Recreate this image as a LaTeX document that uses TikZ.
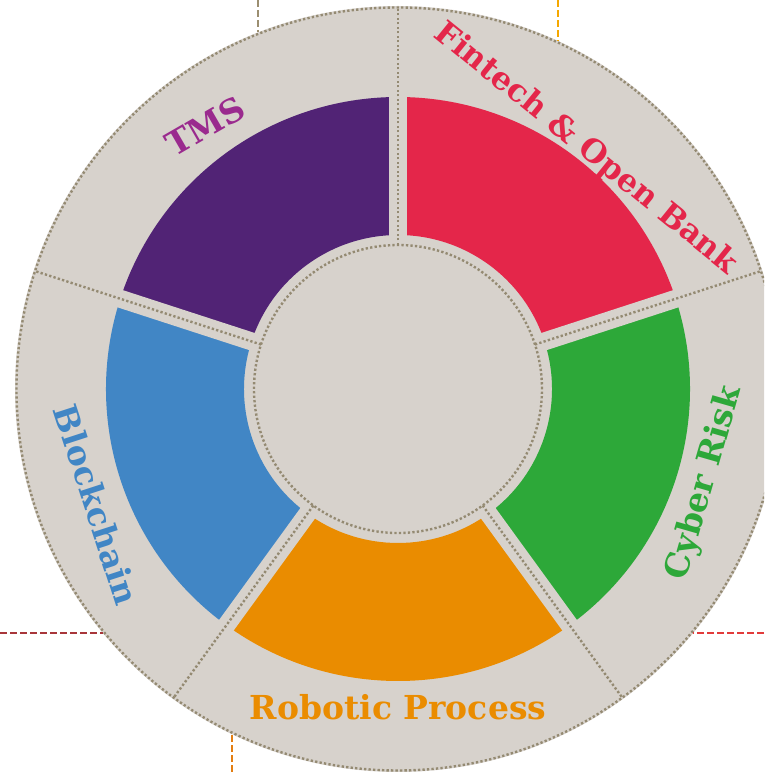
\documentclass[tikz,border=0pt]{standalone}
\usepackage{fontspec}
\setmainfont{DejaVu Serif}
\definecolor{ringgray}{HTML}{D7D2CC}
\definecolor{dotcol}{HTML}{948A72}
\definecolor{tmspurple}{HTML}{512375}
\definecolor{tmsmag}{HTML}{9A2A8E}
\definecolor{fintechred}{HTML}{E4264A}
\definecolor{cybergreen}{HTML}{2DA839}
\definecolor{roboorange}{HTML}{EA8C00}
\definecolor{blockblue}{HTML}{4186C5}
\definecolor{dashgray}{HTML}{9B8E70}
\definecolor{dashyellow}{HTML}{F5A700}
\definecolor{dashdarkred}{HTML}{A8363A}
\definecolor{dashred}{HTML}{E23B3B}
\definecolor{dashorange}{HTML}{E37E12}
\begin{document}
\begin{tikzpicture}[x=1pt,y=1pt,
  dotline/.style={dotcol, line width=2.4pt, dash pattern=on 2.3pt off 2.2pt},
  gapline/.style={ringgray, line width=18pt},
  lbl/.style={font=\bfseries\fontsize{33}{33}\selectfont, inner sep=0pt, anchor=center},
  edgedash/.style={line width=2.2pt, dash pattern=on 7pt off 3pt}]
\useasboundingbox (0,0) rectangle (764,772);
\clip (0,0) rectangle (764,772);
\begin{scope}[shift={(398,383)}]
  \coordinate (O) at (0,0);
  \fill[ringgray] (O) circle (383);
  % coloured ring sectors
  \foreach \a/\col in {90/tmspurple, 18/fintechred, -54/cybergreen, -126/roboorange, 162/blockblue}{
    \fill[\col] (\a:154) arc[start angle=\a, delta angle=72, radius=154]
      -- ({\a+72}:292) arc[start angle={\a+72}, delta angle=-72, radius=292] -- cycle;
  }
  % gaps between sectors
  \foreach \a in {90,18,-54,-126,162}{
    \draw[gapline] (\a:140) -- (\a:300);
  }
  % dotted separators and circles
  \foreach \a in {90,18,-54,-126,162}{
    \coordinate (in\a) at (\a:144);
    \coordinate (out\a) at (\a:381);
    \draw[dotline] (in\a) -- (out\a);
  }
  \draw[dotline] (O) circle (144);
  \draw[dotline] (O) circle (381.5);
  % labels
  \node[lbl, text=tmsmag, rotate=30] (tms) at (126.3:326) {TMS};
  \node[lbl, text=fintechred, rotate=-39, font=\bfseries\fontsize{31.5}{31.5}\selectfont] (fin) at (52:305) {Fintech \& Open Bank};
  \node[lbl, text=cybergreen, rotate=74] (cyb) at (-17:321) {Cyber Risk};
  \node[lbl, text=roboorange] (rob) at (-90:318) {Robotic Process};
  \node[lbl, text=blockblue, rotate=-72] (blk) at (201:323) {Blockchain};
  % points on the outer rim where the dashed leaders end
  \coordinate (rimTL) at (-140,356.5);
  \coordinate (rimTR) at (160,348);
  \coordinate (rimL) at (-295,-244);
  \coordinate (rimR) at (295,-244);
  \coordinate (rimB) at (-166,-345);
\end{scope}
\coordinate (edgeTL) at (258,772);
\coordinate (edgeTR) at (558,772);
\coordinate (edgeL) at (0,139);
\coordinate (edgeR) at (764,139);
\coordinate (edgeB) at (232,0);
\draw[edgedash, dashgray] (edgeTL) -- (rimTL);
\draw[edgedash, dashyellow] (edgeTR) -- (rimTR);
\draw[edgedash, dashdarkred] (edgeL) -- (rimL);
\draw[edgedash, dashred] (edgeR) -- (rimR);
\draw[edgedash, dashorange] (edgeB) -- (rimB);
\end{tikzpicture}
\end{document}
